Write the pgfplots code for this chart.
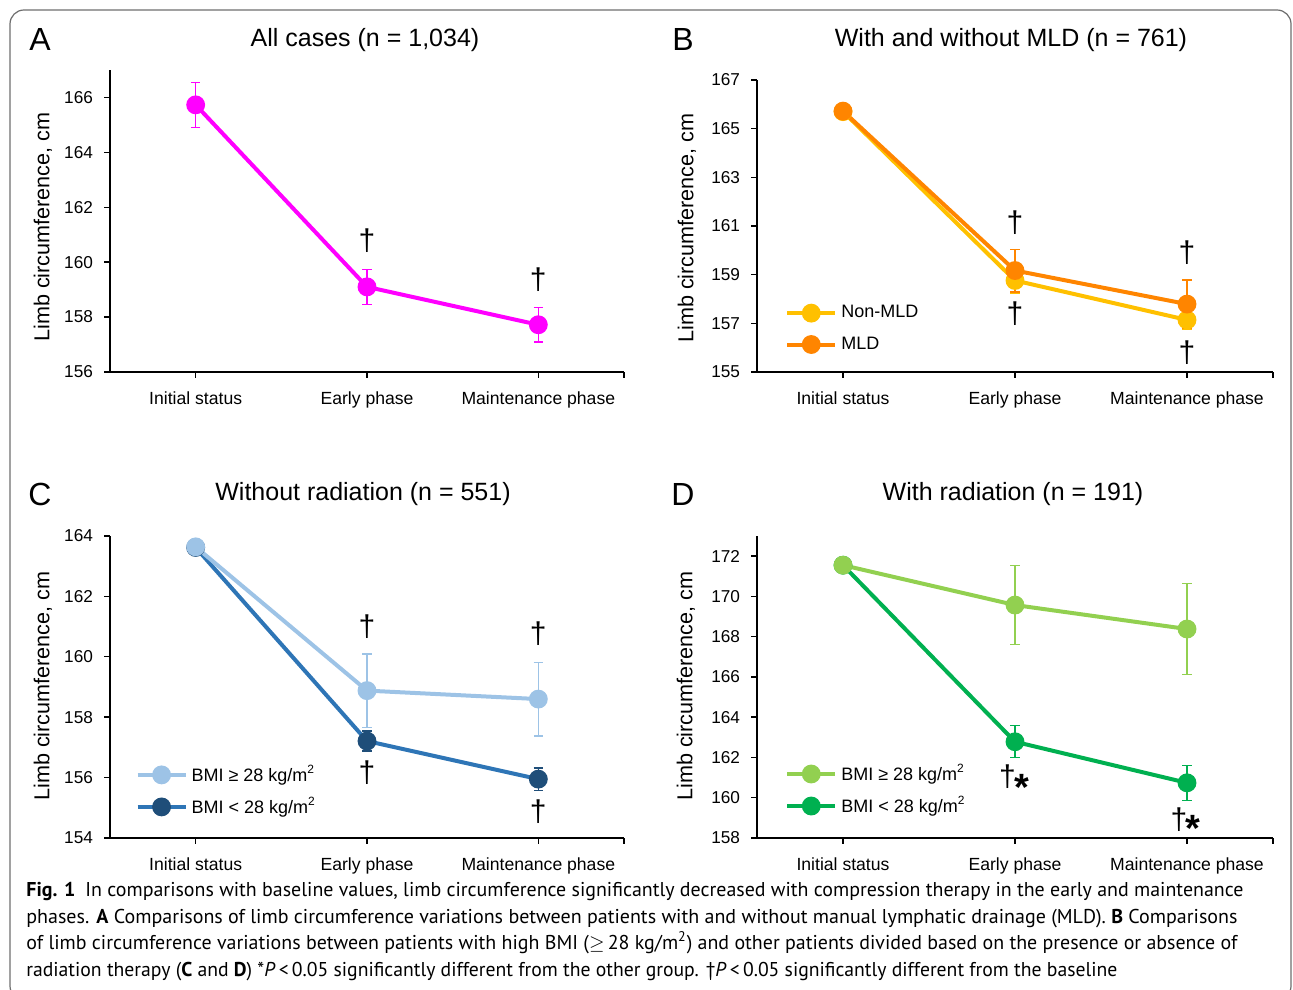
\documentclass[border=0pt]{standalone}
\usepackage{pgfplots}
\pgfplotsset{compat=1.18}
\usepackage{fontspec}
\setmainfont{Liberation Sans}
\newfontfamily\capfont{PT Sans}

\definecolor{magA}{HTML}{FF00FF}
\definecolor{nonmld}{HTML}{FFC000}
\definecolor{mld}{HTML}{FF8500}
\definecolor{bluelt}{HTML}{9DC3E6}
\definecolor{bluedk}{HTML}{2E75B6}
\definecolor{bluemk}{HTML}{1F4E79}
\definecolor{greenlt}{HTML}{92D050}
\definecolor{greendk}{HTML}{00B050}
\definecolor{framec}{HTML}{6E6E6E}

\pgfplotsset{
  panel/.style={
    scale only axis, anchor=south west,
    width=257pt,
    axis lines*=left, axis line style={line width=0.7pt},
    tick align=outside, major tick length=3pt,
    tick style={black, line width=0.7pt},
    xmin=-0.5, xmax=2.5, xtick={0,1,2,2.5},
    xticklabels={Initial status,Early phase,Maintenance phase,{}},
    x tick label style={font=\fontsize{8.8}{10}\selectfont, yshift=-3.5pt},
    y tick label style={font=\fontsize{8.6}{10}\selectfont, xshift=-2pt},
    /pgf/number format/assume math mode=true,
    clip=false,
    legend cell align=left,
    legend style={draw=none, fill=none, font=\fontsize{9}{11}\selectfont,
      row sep=4pt, inner sep=0pt},
    legend image code/.code={\draw[mark repeat=2,mark phase=2,##1]
      plot coordinates {(0pt,0pt) (12pt,0pt) (24pt,0pt)};},
  },
  ser/.style={line width=2pt, mark=*, mark size=3.7pt, color=#1,
    error bars/y dir=both, error bars/y explicit,
    error bars/error bar style={line width=0.6pt, #1},
    error bars/error mark options={rotate=90, line width=0.6pt, mark size=2.3pt, #1}},
}
\tikzset{
  dag/.style={font=\fontsize{15}{15}\selectfont, inner sep=0pt},
  ast/.style={font=\bfseries\fontsize{19}{19}\selectfont, inner sep=0pt, anchor=north},
}

\begin{document}
\begin{tikzpicture}
\path[use as bounding box] (0,0) rectangle (646.5pt,494.5pt);
\clip (0,0) rectangle (646.5pt,494.5pt);

% A
\begin{axis}[panel, at={(55pt,308.5pt)}, height=151pt,
  ymin=156, ymax=167, ytick={156,158,...,166}]
\addplot[ser=magA] table[x=x,y=y,y error=e,row sep=\\] {
x y e \\ 0 165.73 0.82 \\ 1 159.10 0.64 \\ 2 157.72 0.63 \\};
\node[dag] at (axis cs:1,160.8) {†};
\node[dag] at (axis cs:2,159.35) {†};
\end{axis}

% B
\begin{axis}[panel, at={(378.5pt,308.5pt)}, width=258pt, height=146pt,
  ymin=155, ymax=167, ytick={155,157,...,167},
  legend style={at={(0.054,0.243)}, anchor=north west}]
\addplot[ser=nonmld] table[x=x,y=y,y error=e,row sep=\\] {
x y e \\ 0 165.70 0 \\ 1 158.76 0.52 \\ 2 157.14 0.37 \\};
\addlegendentry{Non-MLD}
\addplot[ser=mld] table[x=x,y=y,y error=e,row sep=\\] {
x y e \\ 0 165.72 0 \\ 1 159.17 0.88 \\ 2 157.79 0.99 \\};
\addlegendentry{MLD}
\node[dag] at (axis cs:1,161.12) {†};
\node[dag] at (axis cs:1,157.38) {†};
\node[dag] at (axis cs:2,159.89) {†};
\node[dag] at (axis cs:2,155.78) {†};
\end{axis}

% C
\begin{axis}[panel, at={(55pt,75.5pt)}, height=151pt,
  ymin=154, ymax=164, ytick={154,156,...,164},
  reverse legend,
  legend style={at={(0.049,0.255)}, anchor=north west, row sep=2.5pt}]
\addplot[ser=bluedk, mark options={fill=bluemk, draw=bluemk},
  error bars/error bar style={line width=0.6pt, bluemk},
  error bars/error mark options={rotate=90, line width=0.6pt, mark size=2.3pt, bluemk}]
  table[x=x,y=y,y error=e,row sep=\\] {
x y e \\ 0 163.62 0 \\ 1 157.21 0.33 \\ 2 155.95 0.37 \\};
\addlegendentry{BMI < 28 kg/m\textsuperscript{2}}
\addplot[ser=bluelt] table[x=x,y=y,y error=e,row sep=\\] {
x y e \\ 0 163.64 0 \\ 1 158.88 1.21 \\ 2 158.60 1.22 \\};
\addlegendentry{BMI ≥ 28 kg/m\textsuperscript{2}}
\node[dag] at (axis cs:1,160.99) {†};
\node[dag] at (axis cs:1,156.15) {†};
\node[dag] at (axis cs:2,160.76) {†};
\node[dag] at (axis cs:2,154.86) {†};
\end{axis}

% D
\begin{axis}[panel, at={(378.5pt,75.5pt)}, width=258pt, height=151pt,
  ymin=158, ymax=173, ytick={158,160,...,172},
  reverse legend,
  legend style={at={(0.054,0.258)}, anchor=north west, row sep=2.5pt}]
\addplot[ser=greendk] table[x=x,y=y,y error=e,row sep=\\] {
x y e \\ 0 171.55 0 \\ 1 162.78 0.79 \\ 2 160.74 0.88 \\};
\addlegendentry{BMI < 28 kg/m\textsuperscript{2}}
\addplot[ser=greenlt] table[x=x,y=y,y error=e,row sep=\\] {
x y e \\ 0 171.55 0 \\ 1 169.57 1.95 \\ 2 168.38 2.27 \\};
\addlegendentry{BMI ≥ 28 kg/m\textsuperscript{2}}
\node[dag] at (axis cs:0.956,161.03) {†};
\node[ast] at (axis cs:1.038,161.18) {*};
\node[dag] at (axis cs:1.953,158.92) {†};
\node[ast] at (axis cs:2.035,159.14) {*};
\end{axis}

\begin{scope}[x=0.5pt, y=-0.5pt, yshift=494.5pt]
\draw[framec, line width=0.6pt, rounded corners=7pt] (10,1000) rectangle (1291,10);
\foreach \lx/\ly/\lt in {40/40/A, 683/40/B, 40/494/C, 683/494/D}
  \node[font=\fontsize{16}{16}\selectfont] at (\lx,\ly) {\lt};
\node[font=\fontsize{12.5}{14}\selectfont] at (365,40) {All cases (n = 1,034)};
\node[font=\fontsize{12.5}{14}\selectfont] at (1011,40) {With and without MLD (n = 761)};
\node[font=\fontsize{12.5}{14}\selectfont] at (363,494) {Without radiation (n = 551)};
\node[font=\fontsize{12.5}{14}\selectfont] at (1013,494) {With radiation (n = 191)};
\foreach \lx/\ly in {43/227, 687/228, 43/686, 686/686}
  \node[rotate=90, font=\fontsize{10.8}{12}\selectfont] at (\lx,\ly) {Limb circumference, cm};
% caption
\node[anchor=base west, inner sep=0pt] at (26,896) {\resizebox{608.5pt}{\height}{\capfont\fontsize{10}{12}\selectfont
  \textbf{Fig. 1}\enspace In comparisons with baseline values, limb circumference significantly decreased with compression therapy in the early and maintenance}};
\node[anchor=base west, inner sep=0pt] at (26,923) {\resizebox{605.5pt}{\height}{\capfont\fontsize{10}{12}\selectfont
  phases. \textbf{A} Comparisons of limb circumference variations between patients with and without manual lymphatic drainage (MLD). \textbf{B} Comparisons}};
\node[anchor=base west, inner sep=0pt] at (26,949) {\resizebox{605.5pt}{\height}{\capfont\fontsize{10}{12}\selectfont
  of limb circumference variations between patients with high BMI ($\geq$\,28 kg/m\textsuperscript{2}) and other patients divided based on the presence or absence of}};
\node[anchor=base west, inner sep=0pt] at (26,976) {\resizebox{545.5pt}{\height}{\capfont\fontsize{10}{12}\selectfont
  radiation therapy (\textbf{C} and \textbf{D}) *\textit{P}\,<\,0.05 significantly different from the other group. †\textit{P}\,<\,0.05 significantly different from the baseline}};
\end{scope}
\end{tikzpicture}
\end{document}
